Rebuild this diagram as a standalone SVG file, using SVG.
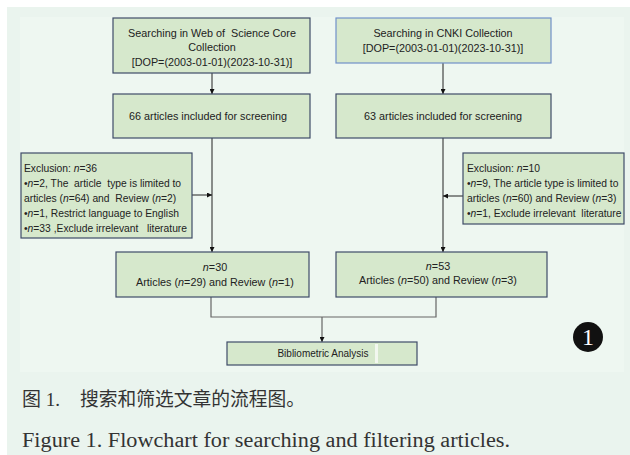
<svg xmlns="http://www.w3.org/2000/svg" width="630" height="455" viewBox="0 0 630 455">
<defs>
<style>
.box{fill:#d6e8cc;stroke:#3f4b68;stroke-width:1.2}
.boxb{fill:#d6e8cc;stroke:#7090c8;stroke-width:1.2}
.t{font-family:"Liberation Sans",Arial,sans-serif;font-size:10.8px;fill:#222;white-space:pre}
.s{font-size:10.3px}
.c{text-anchor:middle}
.i{font-style:italic}
.ln{fill:none;stroke:#222;stroke-width:1}
.lg{fill:none;stroke:#666;stroke-width:1.2}
.cap{font-family:"Liberation Serif","Noto Sans CJK SC",serif;fill:#333}
</style>
<marker id="ah" viewBox="0 0 6 6" refX="6" refY="3" markerWidth="5" markerHeight="5" orient="auto" markerUnits="userSpaceOnUse">
<path d="M0,0 L6,3 L0,6 Z" fill="#111"/>
</marker>
</defs>
<rect x="0" y="0" width="630" height="455" fill="#ffffff"/>
<rect x="7" y="7" width="623" height="448" fill="#eaf4ee"/>
<rect x="20" y="17" width="604" height="355" fill="#eef7f1"/>

<g id="connectors">
<line class="ln" x1="212" y1="73" x2="212" y2="94" marker-end="url(#ah)"/>
<line class="ln" x1="443" y1="63" x2="443" y2="94" marker-end="url(#ah)"/>
<line class="ln" x1="212" y1="138" x2="212" y2="252" marker-end="url(#ah)"/>
<line class="ln" x1="443" y1="138" x2="443" y2="252" marker-end="url(#ah)"/>
<line class="ln" x1="192" y1="195" x2="212" y2="195" marker-end="url(#ah)"/>
<line class="ln" x1="463" y1="196" x2="443" y2="196" marker-end="url(#ah)"/>
<polyline class="lg" points="211,297 211,317 436,317 436,297"/>
<line class="lg" x1="322" y1="317" x2="322" y2="342" marker-end="url(#ah)"/>
</g>

<g id="wos">
<rect class="box" x="113" y="18" width="197" height="55"/>
<text class="t c" x="212" y="37" xml:space="preserve">Searching in Web of  Science Core</text>
<text class="t c" x="212" y="51">Collection</text>
<text class="t c" x="212" y="66">[DOP=(2003-01-01)(2023-10-31)]</text>
</g>

<g id="cnki">
<rect class="boxb" x="336" y="18" width="215" height="45"/>
<text class="t c" x="443" y="37">Searching in CNKI Collection</text>
<text class="t c" x="443" y="52">[DOP=(2003-01-01)(2023-10-31)]</text>
</g>

<g id="wos66">
<rect class="box" x="113" y="94" width="197" height="44"/>
<text class="t c" x="208" y="120">66 articles included for screening</text>
</g>

<g id="cnki63">
<rect class="box" x="336" y="94" width="215" height="44"/>
<text class="t c" x="443" y="120">63 articles included for screening</text>
</g>

<g id="excl-left">
<rect class="box" x="21" y="153" width="171" height="85"/>
<text class="t s" x="24" y="172">Exclusion: <tspan class="i">n</tspan>=36</text>
<text class="t s" x="24" y="187" xml:space="preserve">•<tspan class="i">n</tspan>=2, The  article  type is limited to</text>
<text class="t s" x="24" y="202" xml:space="preserve">articles (<tspan class="i">n</tspan>=64) and  Review (<tspan class="i">n</tspan>=2)</text>
<text class="t s" x="24" y="217">•<tspan class="i">n</tspan>=1, Restrict language to English</text>
<text class="t s" x="24" y="232" xml:space="preserve">•<tspan class="i">n</tspan>=33 ,Exclude irrelevant   literature</text>
</g>

<g id="excl-right">
<rect class="box" x="463" y="153" width="161" height="71"/>
<text class="t s" x="467" y="172">Exclusion: <tspan class="i">n</tspan>=10</text>
<text class="t s" x="467" y="187">•<tspan class="i">n</tspan>=9, The article type is limited to</text>
<text class="t s" x="467" y="202">articles (<tspan class="i">n</tspan>=60) and Review (<tspan class="i">n</tspan>=3)</text>
<text class="t s" x="467" y="217" xml:space="preserve">•<tspan class="i">n</tspan>=1, Exclude irrelevant  literature</text>
</g>

<g id="wos30">
<rect class="box" x="116" y="252" width="193" height="45"/>
<text class="t c" x="215" y="271"><tspan class="i">n</tspan>=30</text>
<text class="t c" x="215" y="286">Articles (<tspan class="i">n</tspan>=29) and Review (<tspan class="i">n</tspan>=1)</text>
</g>

<g id="cnki53">
<rect class="box" x="336" y="252" width="211" height="45"/>
<text class="t c" x="438" y="270"><tspan class="i">n</tspan>=53</text>
<text class="t c" x="438" y="284">Articles (<tspan class="i">n</tspan>=50) and Review (<tspan class="i">n</tspan>=3)</text>
</g>

<g id="biblio">
<rect class="box" x="227" y="342" width="190" height="23"/>
<rect x="375" y="344" width="3" height="19" fill="#f2f7ef"/>
<text class="t c" x="323" y="357" style="font-size:10px">Bibliometric Analysis</text>
</g>

<g id="badge">
<circle cx="588" cy="337" r="15" fill="#111"/>
<text x="588" y="345" text-anchor="middle" style="font-family:'Liberation Serif',serif;font-size:24px;fill:#fff">1</text>
</g>

<text class="cap" x="22" y="406" style="font-size:19px">图 1.</text>
<text class="cap" x="80" y="406" style="font-size:19px" textLength="225" lengthAdjust="spacingAndGlyphs">搜索和筛选文章的流程图。</text>
<text class="cap" x="22" y="447" style="font-size:20px" textLength="488" lengthAdjust="spacingAndGlyphs">Figure 1. Flowchart for searching and filtering articles.</text>
</svg>
